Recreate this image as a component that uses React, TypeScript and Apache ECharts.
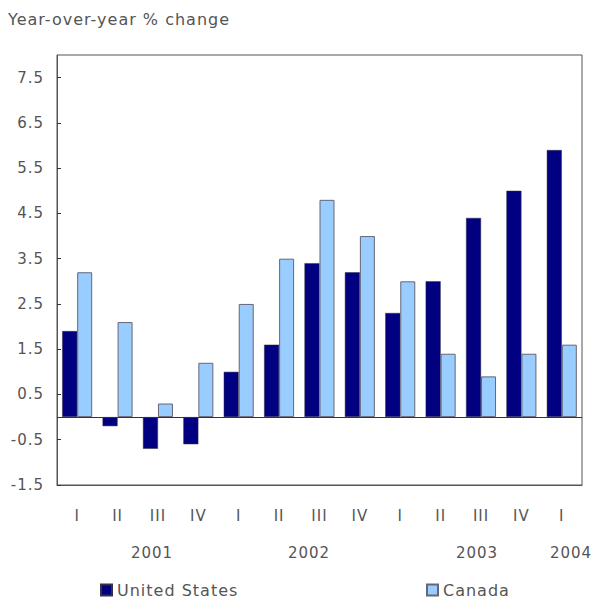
import React, { useEffect, useRef } from "react";
import * as echarts from "echarts";

// Quarters along the bottom axis
const quarters = ["I", "II", "III", "IV", "I", "II", "III", "IV", "I", "II", "III", "IV", "I"];
// Year captions under the quarters
const years = ["2001", "2002", "2003", "2004"];
// Year-over-year % change
const unitedStates = [1.9, -0.2, -0.7, -0.6, 1.0, 1.6, 3.4, 3.2, 2.3, 3.0, 4.4, 5.0, 5.9];
const canada = [3.2, 2.1, 0.3, 1.2, 2.5, 3.5, 4.8, 4.0, 3.0, 1.4, 0.9, 1.4, 1.6];
// Value-axis tick labels
const yTicks = [-1.5, -0.5, 0.5, 1.5, 2.5, 3.5, 4.5, 5.5, 6.5, 7.5];

const FONT = "DejaVu Sans";
const TEXT = "#555555";
const yearCenters = [152, 309, 477, 571];

export default function App() {
  const ref = useRef<HTMLDivElement>(null);

  useEffect(() => {
    if (!ref.current) return;
    const chart = echarts.init(ref.current, null, { renderer: "svg" });
    const legendText = { fontFamily: FONT, fontSize: 16, color: TEXT };
    chart.setOption({
      animation: false,
      backgroundColor: "#ffffff",
      textStyle: { fontFamily: FONT },
      grid: {
        left: 57,
        right: 15,
        top: 55,
        bottom: 128,
        show: true,
        borderColor: "#555555",
        borderWidth: 1,
        backgroundColor: "transparent",
      },
      legend: [
        {
          data: ["United States"],
          left: 100,
          top: 582,
          padding: 0,
          itemWidth: 11,
          itemHeight: 11,
          itemGap: 5,
          icon: "rect",
          textStyle: legendText,
        },
        {
          data: ["Canada"],
          left: 426,
          top: 582,
          padding: 0,
          itemWidth: 11,
          itemHeight: 11,
          icon: "rect",
          textStyle: legendText,
        },
      ],
      xAxis: {
        type: "category",
        data: quarters,
        position: "bottom",
        axisLine: { onZero: false, lineStyle: { color: "#555555" } },
        axisTick: { show: false },
        axisLabel: { margin: 23, fontFamily: FONT, fontSize: 15, color: TEXT },
      },
      yAxis: {
        type: "value",
        min: -1.5,
        max: 8,
        splitLine: { show: false },
        axisLine: { show: true, lineStyle: { color: "#555555" } },
        axisTick: {
          show: true,
          inside: true,
          length: 4,
          customValues: yTicks,
          lineStyle: { color: "#333333" },
        },
        axisLabel: {
          customValues: yTicks,
          margin: 13,
          fontFamily: FONT,
          fontSize: 15,
          color: TEXT,
          formatter: (v: number) => v.toFixed(1),
        },
      },
      series: [
        {
          name: "United States",
          type: "bar",
          data: unitedStates,
          barWidth: 15,
          barGap: "0%",
          itemStyle: { color: "#000080", borderColor: "#333344", borderWidth: 0.5 },
          markLine: {
            silent: true,
            symbol: "none",
            label: { show: false },
            lineStyle: { color: "#333333", type: "solid", width: 1 },
            data: [{ yAxis: 0 }],
          },
        },
        {
          name: "Canada",
          type: "bar",
          data: canada,
          barWidth: 15,
          itemStyle: { color: "#99ccff", borderColor: "#666677", borderWidth: 1 },
        },
      ],
      graphic: [
        {
          type: "text",
          left: 8,
          top: 11,
          style: { text: "Year-over-year % change", fontFamily: FONT, fontSize: 16, fill: TEXT },
        },
        ...years.map((y, i) => ({
          type: "text",
          x: yearCenters[i],
          y: 553,
          style: {
            text: y,
            fontFamily: FONT,
            fontSize: 15,
            fill: TEXT,
            align: "center",
            verticalAlign: "middle",
          },
        })),
      ],
    });
    return () => chart.dispose();
  }, []);

  return (
    <>
      <style>{".stat-chart text { letter-spacing: 1px; }"}</style>
      <div
        ref={ref}
        className="stat-chart"
        style={{ position: "fixed", left: 0, top: 0, width: 597, height: 613 }}
      />
    </>
  );
}
